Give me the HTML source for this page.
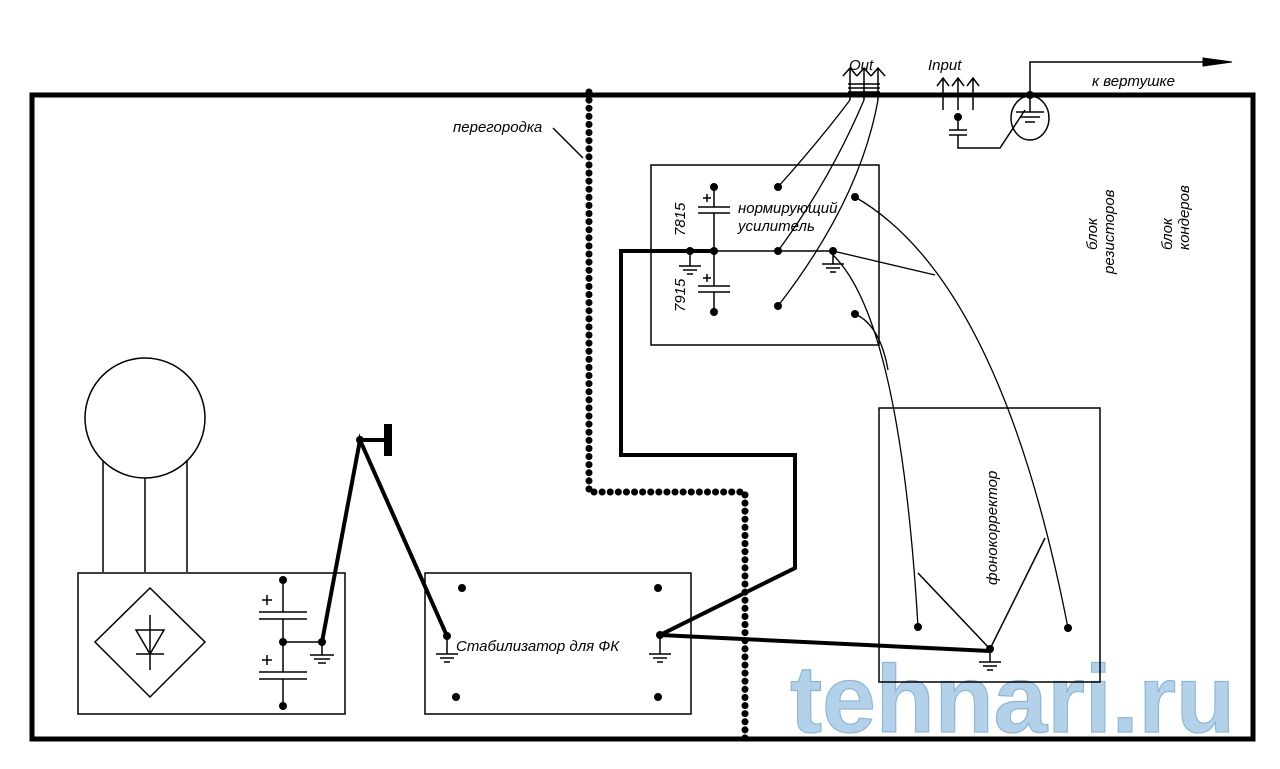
<!DOCTYPE html>
<html><head><meta charset="utf-8"><style>body{margin:0;background:#fff}svg{display:block}text{font-family:"Liberation Sans",sans-serif;font-style:italic}</style></head><body>
<svg width="1280" height="769" viewBox="0 0 1280 769" xmlns="http://www.w3.org/2000/svg">
<rect width="1280" height="769" fill="#fff"/>
<!-- watermark -->
<text x="790" y="735" font-weight="bold" font-size="80" fill="#b3d2ea" stroke="#8fb6d6" stroke-width="1" textLength="445" lengthAdjust="spacingAndGlyphs" transform="translate(0,-150) scale(1,1.2)" style="font-style:normal">tehnari.ru</text>
<g fill="none" stroke="#000">
<rect x="32" y="95" width="1221" height="644" stroke-width="5"/>
<!-- transformer -->
<circle cx="145" cy="418" r="60" stroke-width="1.5"/>
<path d="M103 460V572M145 478V572M187 460V572" stroke-width="1.5"/>
<rect x="78" y="573" width="267" height="141" stroke-width="1.5"/>
<path d="M150 588L205 642L150 697L95 642Z" stroke-width="1.5"/>
<path d="M150 615V670M136 630H164L150 654ZM136 654H164" stroke-width="1.5"/>
<path d="M283 580V612M259 612H307M259 619H307M283 619V672M259 672H307M259 679H307M283 679V706M283 642H322V655M310 655H334M314 659H330M318 663H326M262 600H272M267 595V605M262 660H272M267 655V665" stroke-width="1.5"/>
<path d="M322 642L360 440L447 636M360 440H388" stroke-width="4"/>
<path d="M388 424V456" stroke-width="8"/>
<!-- stabilizer -->
<rect x="425" y="573" width="266" height="141" stroke-width="1.5"/>
<path d="M447 636V654M436 654H458M440 658H454M444 662H450M660 635V654M649 654H671M653 658H667M657 662H663" stroke-width="1.5"/>
<path d="M660 635L795 568V455H621V251H714M660 635L990 651" stroke-width="4"/>
<!-- amp -->
<rect x="651" y="165" width="228" height="180" stroke-width="1.5"/>
<path d="M714 187V207M698 207H730M698 213H730M714 213V286M698 286H730M698 292H730M714 292V312M690 251H833M690 251V266M679 266H701M683 270H697M687 274H693M833 251V264M822 264H844M826 268H840M830 272H836M703 198H711M707 194V202M703 278H711M707 274V282" stroke-width="1.5"/>
<!-- out/in -->
<path d="M850 100V68M864 100V68M878 100V68M843 76L850 68L857 76M857 76L864 68L871 76M871 76L878 68L885 76M848 84H880M848 88H880M848 92H880" stroke-width="1.5"/>
<path d="M850 100Q820 140 778 187M864 100Q830 180 778 251M878 100Q860 200 778 306" stroke-width="1.3"/>
<path d="M943 110V78M958 110V78M973 110V78M937 86L943 78L949 86M952 86L958 78L964 86M967 86L973 78L979 86M958 117V130M949 130H967M949 135H967M958 135V148H1000L1025 110" stroke-width="1.5"/>
<ellipse cx="1030" cy="118" rx="19" ry="22" stroke-width="1.5"/>
<path d="M1030 95V62H1210M1030 95V112M1016 112H1044M1020 117H1040M1025 122H1035" stroke-width="1.5"/>
<path d="M1203 58L1232 62L1203 66Z" fill="#000"/>
<!-- phono -->
<rect x="879" y="408" width="221" height="274" stroke-width="1.5"/>
<path d="M918 573L990 649L1045 538M990 649V662M979 662H1001M983 666H997M987 670H993" stroke-width="1.5"/>
<path d="M855 197Q1000 280 1068 628M833 251L935 275M833 255Q900 320 918 627M855 314Q880 325 888 370" stroke-width="1.3"/>
</g>
<g fill="#000">
<circle cx="322" cy="642" r="4"/><circle cx="283" cy="580" r="4"/><circle cx="283" cy="642" r="4"/><circle cx="283" cy="706" r="4"/><circle cx="360" cy="440" r="4"/><circle cx="447" cy="636" r="4"/>
<circle cx="462" cy="588" r="4"/><circle cx="658" cy="588" r="4"/><circle cx="456" cy="697" r="4"/><circle cx="658" cy="697" r="4"/><circle cx="660" cy="635" r="4"/>
<circle cx="714" cy="187" r="4"/><circle cx="778" cy="187" r="4"/><circle cx="855" cy="197" r="4"/><circle cx="690" cy="251" r="4"/><circle cx="714" cy="251" r="4"/><circle cx="778" cy="251" r="4"/><circle cx="833" cy="251" r="4"/><circle cx="778" cy="306" r="4"/><circle cx="714" cy="312" r="4"/><circle cx="855" cy="314" r="4"/>
<circle cx="958" cy="117" r="4"/><circle cx="1030" cy="95" r="4"/>
<circle cx="918" cy="627" r="4"/><circle cx="1068" cy="628" r="4"/><circle cx="990" cy="649" r="4"/>
</g>
<path d="M589 92V492H745V740" fill="none" stroke="#000" stroke-width="7" stroke-dasharray="0.1 8" stroke-linecap="round"/>
<g font-size="15" fill="#000">
<text x="453" y="132">перегородка</text>
<path d="M553 128L583 158" stroke="#000" stroke-width="1.5"/>
<text x="456" y="651">Стабилизатор для ФК</text>
<text x="738" y="213">нормирующий</text>
<text x="738" y="231">усилитель</text>
<text x="849" y="70">Out</text>
<text x="928" y="70">Input</text>
<text x="1092" y="86">к вертушке</text>
<text transform="translate(685,236) rotate(-90)">7815</text>
<text transform="translate(685,312) rotate(-90)">7915</text>
<text transform="translate(1097,250) rotate(-90)">блок</text>
<text transform="translate(1114,274) rotate(-90)">резисторов</text>
<text transform="translate(1172,250) rotate(-90)">блок</text>
<text transform="translate(1189,250) rotate(-90)">кондеров</text>
<text transform="translate(997,585) rotate(-90)">фонокорректор</text>
</g>
</svg>
</body></html>
